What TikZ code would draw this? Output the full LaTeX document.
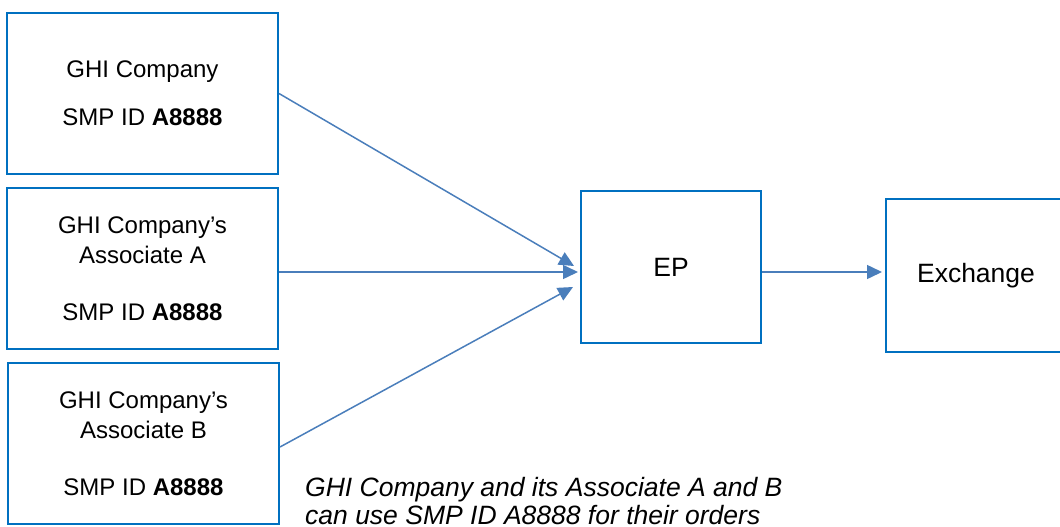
\documentclass[tikz,border=0pt]{standalone}
\usepackage{fontspec}
\setmainfont{Liberation Sans}
\usetikzlibrary{arrows.meta}
\definecolor{boxblue}{RGB}{0,112,192}
\definecolor{arrblue}{RGB}{74,126,187}
\begin{document}
\begin{tikzpicture}[x=1pt,y=-1pt,
  box/.style={draw=boxblue,line width=2pt,minimum width=271pt,minimum height=161pt,align=center,inner sep=0pt,font=\fontsize{24}{30}\selectfont},
  big/.style={font=\fontsize{26.5}{30}\selectfont},
  arr/.style={draw=arrblue,line width=1.5pt,-{Triangle[length=15pt,width=14pt]}}]
\useasboundingbox (0,0) rectangle (1060,527);
\node[box] (b1) at (142.5,93.5) {GHI Company\\[18pt]SMP ID \textbf{A8888}};
\node[box] (b2) at (142.5,268.5) {GHI Company’s\\Associate A\\[27pt]SMP ID \textbf{A8888}};
\node[box] (b3) at (143.5,443.5) {GHI Company’s\\Associate B\\[27pt]SMP ID \textbf{A8888}};
\node[box,big,minimum width=180pt,minimum height=152pt] (ep) at (671,267) {EP};
\node[box,big,minimum width=180pt,minimum height=153pt] (ex) at (976,275.5) {Exchange};
\node[anchor=base west,align=left,inner sep=0pt,font=\fontsize{26.5}{28}\selectfont\itshape] (note) at (305,524.5)
  {GHI Company and its Associate A and B\\can use SMP ID A8888 for their orders};
\draw[arr] (b1.east) -- ([xshift=-6pt,yshift=1pt]ep.west);
\draw[arr] ([yshift=-3.5pt]b2.east) -- ([xshift=-2pt,yshift=-5pt]ep.west);
\draw[arr] ([yshift=-3.5pt]b3.east) -- ([xshift=-7pt,yshift=-20pt]ep.west);
\draw[arr] ([yshift=-5pt]ep.east) -- ([xshift=-3pt,yshift=3.5pt]ex.west);
\end{tikzpicture}
\end{document}
